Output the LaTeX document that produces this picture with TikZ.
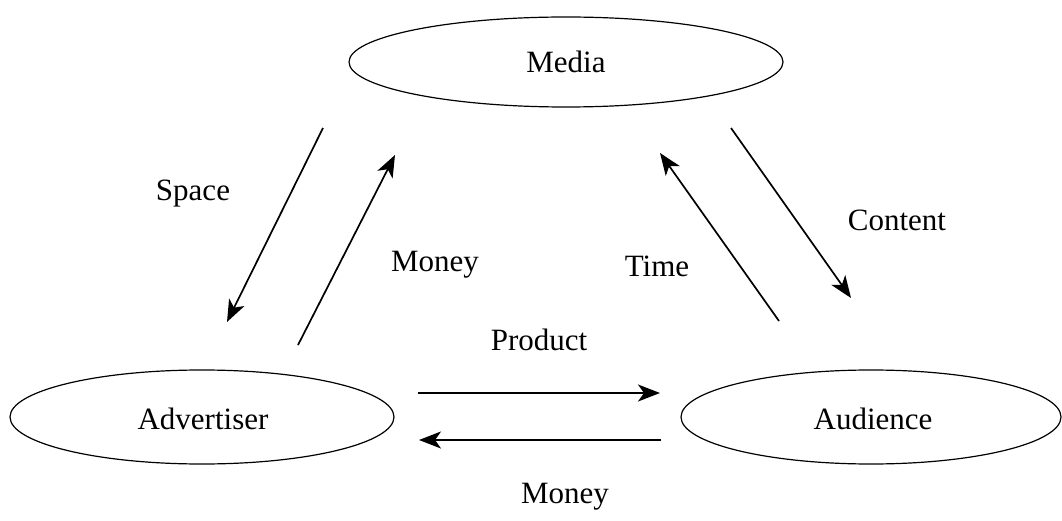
\documentclass[tikz,border=0pt]{standalone}
\usepackage{fontspec}
\setmainfont{Liberation Serif}
\usetikzlibrary{arrows.meta,shapes.geometric}
\begin{document}
\begin{tikzpicture}[x=1pt,y=-1pt,
  ell/.style={draw,ellipse,line width=1.2pt,inner sep=0pt},
  lbl/.style={font=\fontsize{31}{37}\selectfont,inner sep=0pt},
  conn/.style={line width=1.7pt,-{Stealth[length=22pt,width=17pt,inset=6pt]}}]
\useasboundingbox (0,0) rectangle (1062,521);
\node[ell,minimum width=434pt,minimum height=90pt] (media) at (566,62) {};
\node[ell,minimum width=384pt,minimum height=94pt] (adv) at (202,417) {};
\node[ell,minimum width=380pt,minimum height=94pt] (aud) at (871,417) {};
\node[lbl] (tmedia) at (566,62) {Media};
\node[lbl] (tadv) at (203,419) {Advertiser};
\node[lbl] (taud) at (873,419) {Audience};
\coordinate (s1) at (323,128); \coordinate (s2) at (227,322);
\coordinate (m1) at (298,345); \coordinate (m2) at (395,155);
\coordinate (t1) at (779,321); \coordinate (t2) at (660,153);
\coordinate (c1) at (731,128); \coordinate (c2) at (851,298);
\coordinate (p1) at (418,393); \coordinate (p2) at (660,393);
\coordinate (q1) at (661,440); \coordinate (q2) at (419,440);
\draw[conn] (s1) -- (s2);
\draw[conn] (m1) -- (m2);
\draw[conn] (t1) -- (t2);
\draw[conn] (c1) -- (c2);
\draw[conn] (p1) -- (p2);
\draw[conn] (q1) -- (q2);
\node[lbl] (lspace) at (193,194) {Space};
\node[lbl] (lmoney) at (435,265) {Money};
\node[lbl] (ltime) at (657,266) {Time};
\node[lbl] (lcontent) at (897,220) {Content};
\node[lbl] (lproduct) at (539,340) {Product};
\node[lbl] (lmoney2) at (565,497) {Money};
\end{tikzpicture}
\end{document}
